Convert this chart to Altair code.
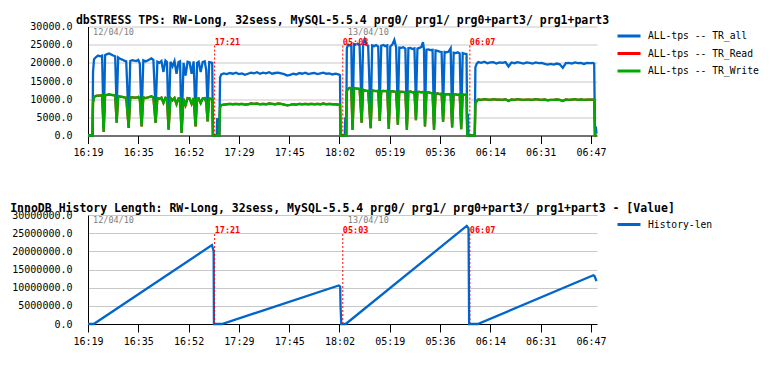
import altair as alt
import pandas as pd

# ---------------- data ----------------
TICK_POS = [0, 50, 100, 150, 200, 250, 300, 350, 400, 450, 500]
TICK_LABELS = ["16:19", "16:35", "16:52", "17:29", "17:45", "18:02",
               "05:19", "05:36", "06:14", "06:31", "06:47"]
X_MAX = 506

TPS_SERIES = ["ALL-tps -- TR_all", "ALL-tps -- TR_Read", "ALL-tps -- TR_Write"]
TPS_COLORS = ["#0066cc", "#ff0000", "#00aa00"]
HIST_SERIES = ["History-len"]
HIST_COLORS = ["#0066cc"]

tps_i = [
    0, 4.5, 5.0, 6.0, 8, 10, 12, 14, 15.6, 17, 19, 21, 23, 25, 27, 28.5, 30, 32, 34, 36, 38,
    40.4, 42, 44, 46, 48, 50, 51.5, 53.3, 55, 57, 59, 61, 63, 65, 67.2, 69, 71, 73, 75, 77,
    78.5, 80.1, 82, 84, 86, 88, 90, 91.5, 93.0, 95, 97, 99, 101, 103, 105, 106.9, 108.5, 110,
    112, 114, 116, 117.5, 118.9, 120.5, 122, 123.5, 124.2, 128.0, 128.5, 129.0, 130.5, 131.3,
    132.5,
    135, 138, 141, 144, 147, 150, 153, 156, 159, 162, 165, 168, 171, 174, 177, 180, 183, 186,
    189, 192, 195, 198, 201, 204, 207, 210, 213, 216, 219, 222, 225, 228, 231, 234, 237, 240,
    243, 246, 249, 250.5, 251.0, 255.3, 255.8, 256.3, 256.7, 257.3,
    258.5, 260, 261.7, 263, 264.5, 266, 268, 270, 272, 273.5, 275, 276.5, 278.5, 281, 282.5,
    284.5, 286.5, 288.5, 290, 291.5, 293.5, 295.5, 297.5, 299, 300.5, 302.5, 304.5, 306.3,
    308, 309.5, 311.5, 313.5, 315.5, 317, 318.5, 320.5, 322.5, 324.5, 326, 327.5, 329.5,
    331.5, 333, 334, 335, 336.5, 338.5, 340.5, 342.5, 344, 345.5, 347.5, 349.5, 351.5, 353,
    354.5, 356.5, 358.5, 360.5, 362, 363.5, 365.5, 367.5, 369.5, 371, 372.5, 374.5, 376.3,
    377.0, 377.6, 378.2, 384.5, 385.1, 386.5, 388,
    391, 394, 397, 400, 403, 406, 409, 412, 415, 418, 421, 424, 427, 430, 433, 436, 439, 442,
    445, 448, 451, 454, 457, 460, 463, 466, 469, 472, 475, 478, 481, 484, 487, 490, 493, 496,
    499, 502, 503.2, 504.0, 504.8, 505.5,
]
tr_all = [
    0, 0, 17500, 21000, 21600, 22000, 21800, 22000, 2000, 22100, 22400, 22600, 22300, 22000,
    21800, 7000, 21500, 21100, 20900, 20600, 20400,
    4200, 20500, 20700, 20600, 20500, 20800, 19800, 5000, 20700, 20400, 20600, 20900, 21200,
    20800, 7000, 20300, 20000, 20500, 17500, 20600,
    20200, 3200, 20300, 19000, 20500, 17000, 20200, 20400, 1400, 20000, 16500, 20300, 20100,
    17000, 20400, 5000, 20000, 20300,
    17500, 20200, 20400, 18000, 7800, 20200, 20100, 20000, 0, 0, 4800, 0, 0, 16000,
    16800,
    17100, 16900, 17200, 17000, 17300, 16900, 17100, 16700, 17000, 17300, 17100, 17400, 17000,
    17300, 17100, 17400, 17000, 17200,
    17300, 17100, 16900, 16500, 16700, 17000, 16800, 17200, 17000, 17300, 16900, 17100, 17200,
    16900, 17100, 17300, 17000, 17100,
    16800, 17000, 16800, 16600, 0, 0, 5000, 0, 0, 24000,
    25000, 24800, 25100, 3000, 25200, 25000, 25300, 24700, 7000, 25500, 26500, 25000, 24700,
    4000, 24800,
    24600, 24900, 24500, 8000, 24700, 24900, 24600, 24800, 3600, 24500, 25000, 26300, 24300,
    6000, 24200, 24100, 24300, 23900, 3000, 24000, 24100, 23800, 24000, 8400, 23900, 24100,
    24400, 25700, 23800, 5000, 23600, 23700, 23500, 23600, 3200, 23400, 23300, 23100, 23000,
    7600,
    23000, 22900, 23100, 24000, 4400, 22800, 22700, 22900, 22600, 3400, 22700, 22500, 22400,
    0, 6000, 0, 0, 18800, 19800, 20200,
    20000, 20300, 19900, 20100, 20200, 19800, 20100, 20000, 20200, 19000, 20100, 19900, 20200,
    20000, 19800, 20100, 20000, 19800,
    20100, 19900, 20000, 19700, 19500, 19700, 19500, 19800, 19600, 18600, 19900, 20000, 19800,
    20100, 19900, 20000, 19700, 20000,
    19900, 20000, 19800, 0, 2500, 500,
]
tr_write = [
    0, 0, 9000, 10600, 10900, 11000, 11000, 11100, 1000, 11100, 11200, 11300, 11200, 11100,
    11000, 3500, 10800, 10700, 10600, 10500, 10400,
    2100, 10500, 10500, 10400, 10400, 10600, 10000, 2500, 10500, 10300, 10400, 10600, 10800,
    10500, 3500, 10300, 10100, 10400, 9000, 10400,
    10200, 1600, 10300, 9700, 10300, 8600, 10200, 10300, 700, 10100, 8400, 10300, 10200,
    8700, 10300, 2500, 10100, 10200,
    8900, 10200, 10300, 9200, 3900, 10200, 10100, 10000, 0, 0, 0, 0, 0, 7800,
    8400,
    8500, 8600, 8700, 8600, 8700, 8600, 8700, 8500, 8600, 8800, 8700, 8800, 8600,
    8700, 8600, 8800, 8700, 8600,
    8800, 8700, 8500, 8300, 8400, 8600, 8500, 8700, 8600, 8700, 8600, 8700, 8600,
    8700, 8600, 8800, 8600, 8700,
    8600, 8600, 8500, 8400, 0, 0, 0, 0, 0, 12200,
    12800, 13100, 13000, 1500, 13100, 13000, 12900, 12800, 3500, 12600, 12400, 12300, 12300,
    2000, 12400,
    12300, 12200, 12300, 4000, 12200, 12300, 12200, 12300, 1800, 12100, 12200, 12100, 12000,
    3000, 12100, 12000, 12000, 11900, 1500, 12000, 12100, 11900, 12000, 4200, 12000, 12000,
    11900, 12000, 11900, 2500, 11800, 11900, 11700, 11600, 1600, 11500, 11600, 11400, 11500,
    3800,
    11400, 11300, 11400, 11300, 2200, 11400, 11300, 11200, 11300, 1700, 11300, 11200, 11300,
    0, 0, 0, 0, 8800, 9500, 9900,
    9800, 10000, 9900, 9800, 10000, 9900, 9900, 9800, 10000, 9500, 9900, 9800, 10000,
    9900, 9800, 9900, 9900, 9800,
    10000, 9900, 9800, 9900, 9700, 9800, 9800, 9900, 9800, 9500, 9900, 9800, 9900,
    10000, 9800, 9900, 9800, 9900,
    9900, 9900, 9900, 0, 0, 0,
]
# TR_Read is not visible in the picture: it lies exactly under TR_Write
tr_read = list(tr_write)

hist_i = [0, 5.7, 123.2, 124.9, 125.2, 133.1, 249.3, 250.7, 251.1, 251.8, 256.2,
          376.5, 378.3, 378.9, 387.4, 502.4, 503.5, 505.5]
hist_len = [0, 0, 21700000, 20100000, 0, 0, 10600000, 10300000, 4600000, 0, 0,
            27000000, 26300000, 0, 0, 13400000, 13200000, 11800000]

marker_i = [125.9, 253.3, 379.6]
marker_txt = ["17:21", "05:03", "06:07"]
date_i = [5, 258.3]
date_txt = ["12/04/10", "13/04/10"]

# ---------------- tables ----------------
rows = []
for name, vals in zip(TPS_SERIES, [tr_all, tr_read, tr_write]):
    for i, v in zip(tps_i, vals):
        rows.append({"i": i, "v": v, "s": name})
tps = pd.DataFrame(rows)
hist = pd.DataFrame({"i": hist_i, "v": hist_len, "s": HIST_SERIES[0]})
markers = pd.DataFrame({"i": marker_i, "t": marker_txt})
dates = pd.DataFrame({"i": date_i, "t": date_txt})

FONT = "DejaVu Sans Mono"
label_expr = "[" + ",".join("'%s'" % t for t in TICK_LABELS) + "][round(datum.value / 50)]"

x_enc = alt.X("i:Q", scale=alt.Scale(domain=[0, X_MAX], nice=False, zero=False),
              axis=alt.Axis(values=TICK_POS, labelExpr=label_expr, title=None, grid=False,
                            ticks=True, tickSize=8, labelPadding=4, domainColor="black",
                            tickColor="black", labelFlush=False))


def y_enc(top, step, field="v"):
    return alt.Y(field + ":Q", scale=alt.Scale(domain=[0, top], nice=False),
                 axis=alt.Axis(values=list(range(0, top + 1, step)), format=".1f", title=None,
                               grid=True, ticks=False, labelPadding=16, gridColor="#c8c8c8",
                               domainColor="black", labelOverlap=False))


LEGEND = alt.Legend(title=None, orient="none", legendX=528, legendY=3.5, symbolType="stroke",
                    symbolSize=529, symbolStrokeWidth=3, labelFont=FONT, labelFontSize=9.7,
                    labelColor="black", labelOffset=6, padding=0, rowPadding=5.5,
                    clipHeight=12)


def panel(df, series, colors, draw_order, top, step, title):
    layers = []
    for name in draw_order:
        layers.append(
            alt.Chart(df).transform_filter(alt.datum.s == name)
            .mark_line(strokeWidth=2.3, interpolate="linear")
            .encode(x=x_enc, y=y_enc(top, step),
                    color=alt.Color("s:N", scale=alt.Scale(domain=series, range=colors),
                                    legend=LEGEND))
        )
    rules = alt.Chart(markers).transform_calculate(
        v="0", v2=str(top * 25 / 30)).mark_rule(
        color="#ff0000", strokeDash=[2, 2], strokeWidth=1).encode(
        x="i:Q", y=y_enc(top, step), y2="v2:Q")
    mtext = alt.Chart(markers).transform_calculate(v=str(top * 25.8 / 30)).mark_text(
        align="left", baseline="middle", font=FONT, fontSize=8.5, fontWeight="bold",
        color="#ff0000").encode(x="i:Q", y=y_enc(top, step), text="t:N")
    dtext = alt.Chart(dates).transform_calculate(v=str(top * 28.5 / 30)).mark_text(
        align="left", baseline="middle", font=FONT, fontSize=8.5, color="#808080").encode(
        x="i:Q", y=y_enc(top, step), text="t:N")
    return alt.layer(*layers, rules, mtext, dtext).properties(
        width=509, height=109,
        title=alt.TitleParams(title, font=FONT, fontSize=11.5, fontWeight="bold", color="black",
                              anchor="middle", frame="group", offset=-4.5))


top_chart = panel(tps, TPS_SERIES, TPS_COLORS,
                  ["ALL-tps -- TR_Read", "ALL-tps -- TR_all", "ALL-tps -- TR_Write"],
                  30000, 5000,
                  "dbSTRESS TPS: RW-Long, 32sess, MySQL-5.5.4 prg0/ prg1/ prg0+part3/ prg1+part3")
bottom_chart = panel(hist, HIST_SERIES, HIST_COLORS, ["History-len"], 30000000, 5000000,
                     "InnoDB History Length: RW-Long, 32sess, MySQL-5.5.4 prg0/ prg1/ "
                     "prg0+part3/ prg1+part3 - [Value]")

chart = alt.vconcat(top_chart, bottom_chart, spacing=79.5, bounds="flush").resolve_scale(
    color="independent", y="independent").resolve_legend(color="independent").properties(
    padding={"left": 1, "top": 5.5, "right": 0, "bottom": 0}
).configure_axis(labelFont=FONT, labelFontSize=10, labelColor="black").configure_view(
    stroke="transparent")

chart.save("out.html", embed_options={"renderer": "svg", "actions": False})
